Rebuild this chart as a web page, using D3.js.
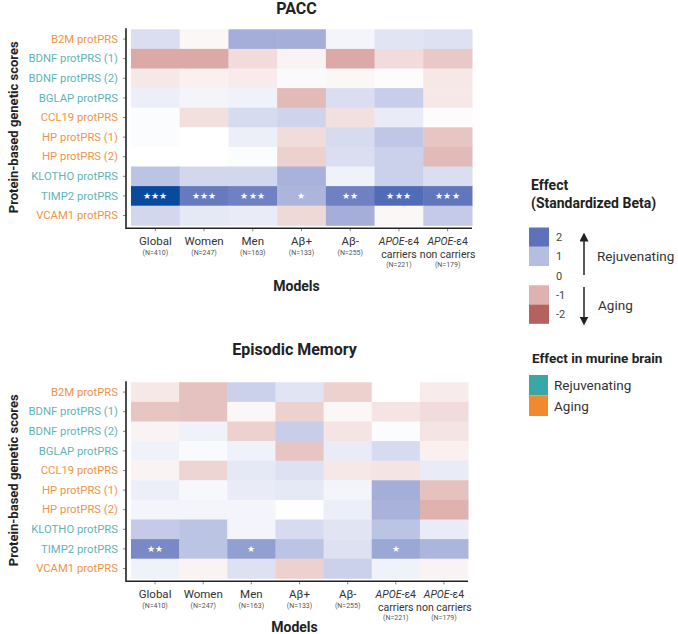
<!DOCTYPE html>
<html><head><meta charset="utf-8">
<script src="https://cdn.jsdelivr.net/npm/d3@7"></script>
<style>
body{margin:0;background:#fff;}
svg{font-family:Roboto,"Noto Sans",sans-serif;}
</style></head>
<body><svg id="c" width="678" height="634"></svg>
<script>
const rows = ["B2M protPRS","BDNF protPRS (1)","BDNF protPRS (2)","BGLAP protPRS","CCL19 protPRS","HP protPRS (1)","HP protPRS (2)","KLOTHO protPRS","TIMP2 protPRS","VCAM1 protPRS"];
const rowEffect = ["Aging","Rejuvenating","Rejuvenating","Rejuvenating","Aging","Aging","Aging","Rejuvenating","Rejuvenating","Aging"];
const models = ["Global","Women","Men","Aβ+","Aβ-","APOE-ε4 carriers","APOE-ε4 non carriers"];
const modelN = ["(N=410)","(N=247)","(N=163)","(N=133)","(N=255)","(N=221)","(N=179)"];

// PACC betas, rows x models
const paccValues = [
  [0.5,-0.1,1.2,1.2,0.15,0.4,0.45],
  [-1.1,-1.1,-0.45,-0.15,-1.1,-0.45,-0.7],
  [-0.3,-0.2,-0.25,0.07,-0.1,-0.05,-0.3],
  [0.25,0.15,0.2,-0.9,0.5,0.75,-0.3],
  [0.05,-0.4,0.55,0.65,-0.4,0.3,-0.05],
  [0.05,0.0,0.25,-0.45,0.55,0.85,-0.75],
  [0.0,0.0,0.05,-0.6,0.5,0.7,-0.9],
  [0.9,0.6,0.6,1.15,0.2,0.7,0.5],
  [3.3,1.9,1.8,1.1,1.8,2.2,1.95],
  [0.6,0.35,0.3,-0.5,1.2,-0.1,0.8]
];
const paccStars = [
  ["","","","","","",""],["","","","","","",""],["","","","","","",""],["","","","","","",""],["","","","","","",""],
  ["","","","","","",""],["","","","","","",""],["","","","","","",""],
  ["***","***","***","*","**","***","***"],
  ["","","","","","",""]
];
// Episodic memory betas
const memValues = [
  [-0.3,-0.8,0.7,0.4,-0.6,0.0,-0.25],
  [-0.75,-0.8,-0.1,-0.6,-0.1,-0.35,-0.45],
  [-0.15,0.2,-0.6,0.75,-0.35,0.05,-0.35],
  [0.2,0.08,0.2,-0.75,0.3,0.55,-0.2],
  [-0.15,-0.55,0.35,0.45,-0.3,-0.35,0.3],
  [0.25,0.1,0.3,0.35,0.15,1.2,-0.8],
  [0.15,0.15,0.15,0.02,0.25,1.15,-1.0],
  [0.8,0.9,0.15,0.55,0.4,0.9,0.3],
  [1.7,0.9,1.4,0.9,0.45,1.3,1.1],
  [0.2,-0.15,0.45,-0.6,0.7,0.2,-0.15]
];
const memStars = [
  ["","","","","","",""],["","","","","","",""],["","","","","","",""],["","","","","","",""],["","","","","","",""],
  ["","","","","","",""],["","","","","","",""],["","","","","","",""],
  ["**","","*","","","*",""],
  ["","","","","","",""]
];
const legendBreaks = [2,1,0,-1,-2];
const effectColors = {Rejuvenating:"#3aa6a6", Aging:"#ef8a2e"};
const labelColors = {Rejuvenating:"#5fb5b5", Aging:"#ef9448"};

const color = d3.scaleLinear()
  .domain([-2.5,-2,-1,0,1,2,3.3])
  .range(["#a04844","#b5625e","#dfb2af","#ffffff","#b5bde1","#5e72ba","#0a4a9e"])
  .clamp(true);

const svg = d3.select("#c");

function heatmap(cfg){
  const g = svg.append("g");
  const x = d3.scaleBand().domain(models).range([cfg.x0, cfg.x1]);
  const y = d3.scaleBand().domain(rows).range([cfg.y0, cfg.y1]);
  const cells = [];
  cfg.values.forEach((r,i)=>r.forEach((v,j)=>cells.push({row:rows[i],model:models[j],v,s:cfg.stars[i][j]})));
  g.selectAll("rect.cell").data(cells).join("rect").attr("class","cell")
    .attr("x",d=>x(d.model)).attr("y",d=>y(d.row))
    .attr("width",x.bandwidth()+0.5).attr("height",y.bandwidth()+0.5)
    .attr("fill",d=>color(d.v));
  g.selectAll("text.star").data(cells.filter(d=>d.s)).join("text").attr("class","star")
    .attr("x",d=>x(d.model)+x.bandwidth()/2).attr("y",d=>y(d.row)+y.bandwidth()/2+3.5)
    .attr("text-anchor","middle").attr("fill","#fff").attr("font-size",9).attr("letter-spacing",0.3)
    .text(d=>d.s.replace(/\*/g,"★"));
  // axes
  const ax = cfg.x0-5, by = cfg.y1+3;
  const yAxis = g.append("g").attr("transform",`translate(${ax},0)`)
    .call(d3.axisLeft(y).tickSize(3).tickPadding(5));
  yAxis.select(".domain").remove();
  yAxis.selectAll(".tick line").attr("stroke","#888");
  yAxis.selectAll(".tick text").attr("font-size",11.3).attr("font-family","Roboto,sans-serif")
    .attr("fill",(d,i)=>labelColors[rowEffect[i]]);
  const xAxis = g.append("g").attr("transform",`translate(0,${by})`)
    .call(d3.axisBottom(x).tickSize(3).tickFormat(""));
  xAxis.select(".domain").remove();
  xAxis.selectAll(".tick line").attr("stroke","#888");
  g.append("path").attr("d",`M${ax},${cfg.y0-1}V${by}H${cfg.x1}`)
    .attr("fill","none").attr("stroke","#222").attr("stroke-width",1.6);
  // x labels
  models.forEach((m,j)=>{
    const cx = x(m)+x.bandwidth()/2;
    const t = g.append("g").attr("transform",`translate(${cx},${by+17})`).attr("fill","#333");
    if(m.startsWith("APOE")){
      const l1 = t.append("text").attr("text-anchor","middle").attr("font-size",10.5);
      l1.append("tspan").attr("font-style","italic").text("APOE");
      l1.append("tspan").text("-ε4");
      t.append("text").attr("y",13).attr("text-anchor","middle").attr("font-size",10.5)
        .text(m.replace("APOE-ε4 ",""));
      t.append("text").attr("y",22).attr("text-anchor","middle").attr("font-size",7).attr("fill","#555").text(modelN[j]);
    } else {
      t.append("text").attr("text-anchor","middle").attr("font-size",11.5).text(m);
      t.append("text").attr("y",10).attr("text-anchor","middle").attr("font-size",7).attr("fill","#555").text(modelN[j]);
    }
  });
  svg.append("text").attr("x",(cfg.x0+cfg.x1)/2-5).attr("y",cfg.modelsY).attr("text-anchor","middle")
    .attr("font-size",14).attr("font-weight","bold").attr("fill","#222").text("Models");
  svg.append("text").attr("x",(cfg.x0+cfg.x1)/2-5).attr("y",cfg.titleY).attr("text-anchor","middle")
    .attr("font-size",16).attr("font-weight","bold").attr("fill","#222").text(cfg.title);
  svg.append("text").attr("transform",`translate(18,${(cfg.y0+cfg.y1)/2}) rotate(-90)`)
    .attr("text-anchor","middle").attr("font-size",13).attr("font-weight","bold").attr("fill","#222")
    .text("Protein-based genetic scores");
}

heatmap({title:"PACC", values:paccValues, stars:paccStars, x0:131, x1:472, y0:29.3, y1:225.3, titleY:14, modelsY:291});
heatmap({title:"Episodic Memory", values:memValues, stars:memStars, x0:131, x1:468, y0:382.3, y1:578.3, titleY:355, modelsY:632});

// Legend: effect
const lg = svg.append("g");
lg.append("text").attr("x",531).attr("y",190).attr("font-size",14).attr("font-weight","bold").attr("fill","#222").text("Effect");
lg.append("text").attr("x",531).attr("y",208).attr("font-size",14).attr("font-weight","bold").attr("fill","#222").text("(Standardized Beta)");
const ly = d3.scalePoint().domain(legendBreaks).range([237,314]);
const swatches = legendBreaks.filter(b=>b!==0);
lg.selectAll("rect.sw").data(swatches).join("rect").attr("class","sw")
  .attr("x",529).attr("width",20)
  .attr("y",d=>ly(d)-9.5).attr("height",19.3)
  .attr("fill",d=>color(d));
lg.selectAll("text.lb").data(legendBreaks).join("text").attr("class","lb")
  .attr("x",556).attr("y",d=>ly(d)+4).attr("font-size",11).attr("fill","#444").text(d=>d);
// arrows
lg.append("defs").append("marker").attr("id","ah").attr("viewBox","0 0 10 10").attr("refX",5).attr("refY",5)
  .attr("markerWidth",6).attr("markerHeight",6).attr("orient","auto-start-reverse")
  .append("path").attr("d","M0,0L10,5L0,10z").attr("fill","#222");
lg.append("line").attr("x1",584).attr("x2",584).attr("y1",275).attr("y2",237)
  .attr("stroke","#222").attr("stroke-width",1.5).attr("marker-end","url(#ah)");
lg.append("line").attr("x1",584).attr("x2",584).attr("y1",287).attr("y2",321)
  .attr("stroke","#222").attr("stroke-width",1.5).attr("marker-end","url(#ah)");
lg.append("text").attr("x",597).attr("y",261).attr("font-size",13.5).attr("fill","#333").text("Rejuvenating");
lg.append("text").attr("x",598).attr("y",310).attr("font-size",13.5).attr("fill","#333").text("Aging");

// Legend: murine
const effects = ["Rejuvenating","Aging"];
lg.append("text").attr("x",532).attr("y",363).attr("font-size",13.5).attr("font-weight","bold").attr("fill","#222").text("Effect in murine brain");
const my = d3.scaleBand().domain(effects).range([375,416]);
lg.selectAll("rect.me").data(effects).join("rect").attr("class","me")
  .attr("x",529).attr("y",d=>my(d)).attr("width",19).attr("height",my.bandwidth())
  .attr("fill",d=>effectColors[d]);
lg.selectAll("text.me").data(effects).join("text").attr("class","me")
  .attr("x",554).attr("y",d=>my(d)+my.bandwidth()/2+5).attr("font-size",13.5).attr("fill","#333").text(d=>d);
</script></body></html>
